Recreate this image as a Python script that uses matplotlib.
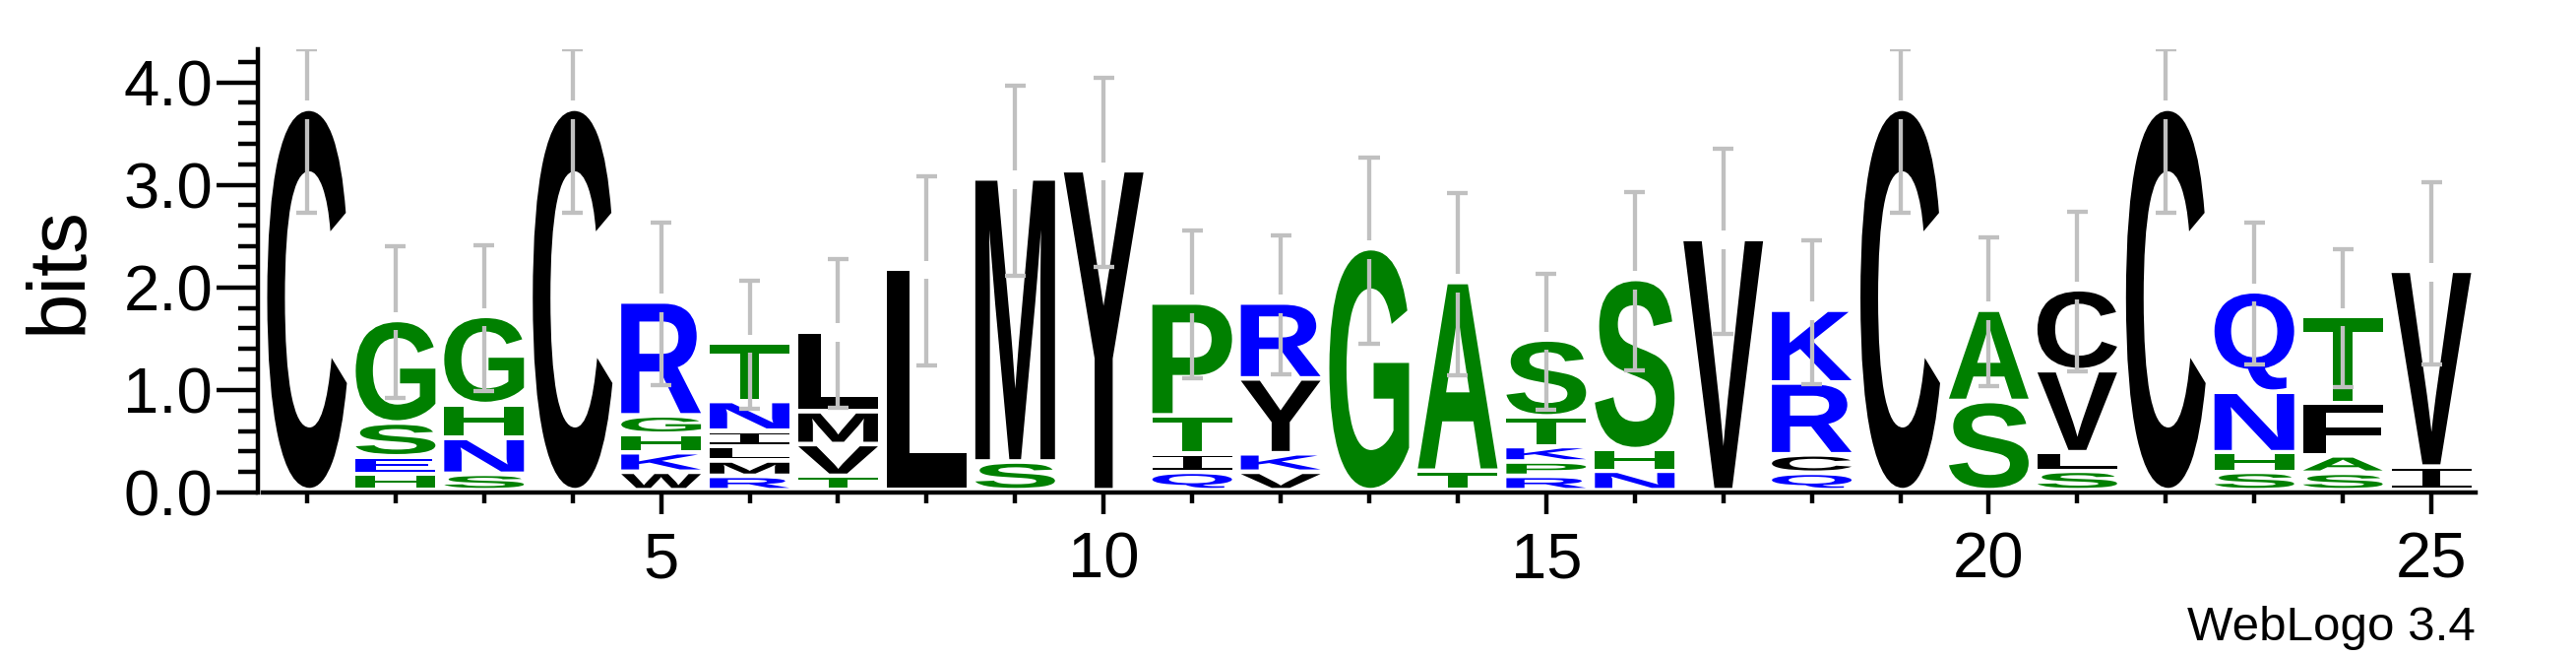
import matplotlib
matplotlib.use("Agg")
import matplotlib.pyplot as plt
import numpy as np
from matplotlib.textpath import TextPath
from matplotlib.patches import PathPatch
from matplotlib.font_manager import FontProperties
from matplotlib.transforms import Affine2D
from matplotlib.ticker import MultipleLocator

# sequence logo columns, letters listed from bottom to top
positions = list(range(1, 26))
letters = ["C", "HESG", "SNHG", "C", "WKHGR", "RMLINT", "TVML", "L", "SM", "Y",
           "QITP", "VKYR", "G", "TA", "RPKTS", "NHS", "V", "QCRK", "C", "SA",
           "SLVC", "C", "SHNQ", "SAFT", "IV"]
heights = [[3.72], [0.16, 0.17, 0.33, 1.00], [0.16, 0.35, 0.33, 0.86], [3.72],
           [0.18, 0.19, 0.18, 0.18, 1.11], [0.14, 0.15, 0.14, 0.15, 0.29, 0.57],
           [0.14, 0.31, 0.32, 0.78], [2.16], [0.28, 2.76], [3.12],
           [0.18, 0.18, 0.37, 1.10], [0.18, 0.18, 0.73, 0.74], [2.36],
           [0.19, 1.84], [0.14, 0.14, 0.15, 0.29, 0.75], [0.19, 0.21, 1.66],
           [2.45], [0.17, 0.18, 0.70, 0.71], [3.72], [0.87, 0.89],
           [0.19, 0.18, 0.80, 0.79], [3.72], [0.18, 0.19, 0.59, 0.98],
           [0.17, 0.17, 0.51, 0.85], [0.23, 1.91]]
errors = [0.99, 0.74, 0.71, 0.99, 0.795, 0.625, 0.725, 0.92, 0.925, 0.92,
          0.72, 0.675, 0.91, 0.885, 0.665, 0.87, 0.905, 0.70, 0.99, 0.725,
          0.775, 0.99, 0.695, 0.675, 0.89]

max_bits = np.log2(20)

# hydrophobicity colour scheme
colors = {}
for aa in "RKDENQ":
    colors[aa] = "#0000ff"
for aa in "SGHTAP":
    colors[aa] = "#008000"
for aa in "YVMCLFIW":
    colors[aa] = "#000000"

bold = FontProperties(family="Liberation Sans", weight="bold")
mono = FontProperties(family="Liberation Mono")


def draw_letter(ax, ch, x, y0, h, width=0.9, gap=0.045):
    prop = mono if ch == "I" else bold
    path = TextPath((0, 0), ch, size=1, prop=prop)
    bb = path.get_extents()
    hh = h - gap
    tr = (Affine2D().translate(-bb.x0, -bb.y0)
          .scale(width / bb.width, hh / bb.height)
          .translate(x - width / 2, y0 + gap))
    ax.add_patch(PathPatch(path, transform=tr + ax.transData,
                           facecolor=colors[ch], edgecolor="none", lw=0))


fig = plt.figure(figsize=(26.17, 6.67), dpi=100)
ax = fig.add_axes([267 / 2617, 167 / 667, 2248 / 2617, 450 / 667])

for pos, seq, hs, err in zip(positions, letters, heights, errors):
    y = 0.0
    for ch, h in zip(seq, hs):
        draw_letter(ax, ch, pos, y, h)
        y += h
    top = y
    up = min(top + err, max_bits)
    lo = top - err
    ec = "#c0c0c0"
    ax.plot([pos, pos], [top + 0.10, up], color=ec, lw=3.1, solid_capstyle="butt", zorder=5)
    ax.plot([pos, pos], [lo, top - 0.08], color=ec, lw=3.1, solid_capstyle="butt", zorder=5)
    ax.plot([pos - 0.117, pos + 0.117], [up, up], color=ec, lw=3.1, solid_capstyle="butt", zorder=5)
    ax.plot([pos - 0.117, pos + 0.117], [lo, lo], color=ec, lw=3.1, solid_capstyle="butt", zorder=5)

ax.set_xlim(0.5, 25.5)
ax.set_ylim(0, max_bits)

for s in ["top", "right"]:
    ax.spines[s].set_visible(False)
ax.spines["left"].set_position(("outward", 3.6))
ax.spines["left"].set_linewidth(3.2)
ax.spines["bottom"].set_linewidth(3.2)

ax.set_xticks([5, 10, 15, 20, 25])
ax.set_xticks(positions, minor=True)
ax.set_yticks([0, 1, 2, 3, 4])
ax.set_yticklabels(["0.0", "1.0", "2.0", "3.0", "4.0"])
ax.yaxis.set_minor_locator(MultipleLocator(0.2))

lab = dict(family="Liberation Sans", size=47)
for t in ax.get_xticklabels() + ax.get_yticklabels():
    t.set_fontfamily("Liberation Sans")
ax.tick_params(axis="y", which="major", length=30, width=3.2, pad=3, labelsize=47)
ax.tick_params(axis="y", which="minor", length=14.4, width=3.2)
ax.tick_params(axis="x", which="major", length=15.8, width=3.2, pad=12.6, labelsize=47)
ax.tick_params(axis="x", which="minor", length=7.9, width=3.2)

fig.text(100 / 2617, (667 - 274.5) / 667, "bits", rotation=90, ha="right",
         va="center", family="Liberation Sans", size=60)
fig.text(2515 / 2617, 17 / 667, "WebLogo 3.4", ha="right", va="baseline",
         family="Liberation Sans", size=35.5)

fig.savefig("out.png", dpi=100)
